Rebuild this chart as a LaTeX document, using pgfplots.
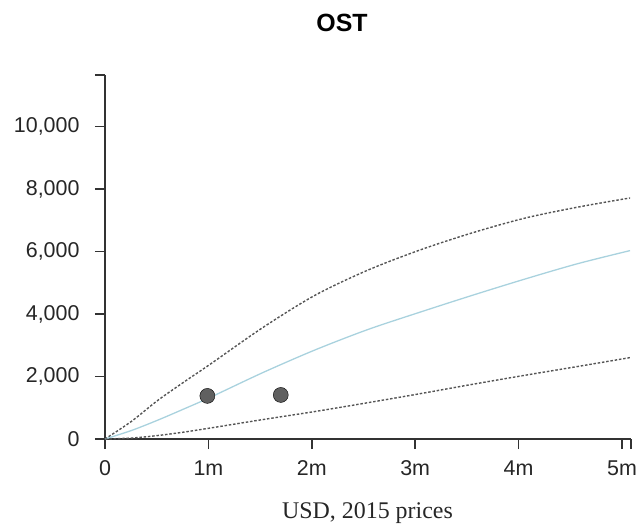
\documentclass[border=0pt]{standalone}
\usepackage{fontspec}
\setmainfont{Liberation Serif}
\newfontfamily\sansf{Liberation Sans}
\usepackage{pgfplots}
\pgfplotsset{compat=1.18}
\definecolor{axisgray}{HTML}{333333}
\definecolor{dashgray}{HTML}{555555}
\definecolor{midblue}{HTML}{A9D2DE}
\definecolor{dotgray}{HTML}{606060}
\begin{document}
\begin{tikzpicture}
\useasboundingbox (-105bp,-91bp) rectangle (536bp,439bp);
\begin{axis}[
  at={(0,0)}, anchor=south west,
  scale only axis,
  width=526bp, height=364bp,
  xmin=0, xmax=5.087, ymin=0, ymax=11650,
  axis x line*=bottom, axis y line*=left,
  axis line style={axisgray, line width=1.6bp, -},
  tick style={axisgray, line width=1.6bp},
  tick align=outside,
  major tick length=10bp,
  scaled ticks=false,
  xtick={0,1,2,3,4,5},
  xticklabels={0,1m,2m,3m,4m,5m},
  extra x ticks={5.087}, extra x tick labels={},
  ytick={0,2000,4000,6000,8000,10000},
  yticklabels={0,{2,000},{4,000},{6,000},{8,000},{10,000}},
  extra y ticks={11650}, extra y tick labels={},
  /pgf/number format/assume math mode=true,
  tick label style={font=\sansf\fontsize{21.5}{26}\selectfont, text=black!85},
  xticklabel style={yshift=-8bp},
  yticklabel style={xshift=-12bp},
  clip=false,
]
\addplot[dashgray, line width=1.4bp, dash pattern=on 2.5bp off 1.8bp, smooth] coordinates {
(0,0) (0.254,560) (0.508,1230) (0.762,1820) (1.016,2390) (1.523,3560) (2.031,4600) (2.539,5400) (3.047,6050) (3.554,6600) (4.062,7070) (4.570,7420) (5.078,7715)};
\addplot[midblue, line width=1.3bp, smooth] coordinates {
(0,0) (0.254,270) (0.508,600) (0.762,960) (1.016,1330) (1.523,2120) (2.031,2850) (2.539,3500) (3.047,4060) (3.554,4600) (4.062,5120) (4.570,5610) (5.078,6030)};
\addplot[dashgray, line width=1.4bp, dash pattern=on 2.5bp off 1.8bp, smooth] coordinates {
(0,0) (0.254,30) (0.508,110) (0.762,220) (1.016,350) (1.523,620) (2.031,880) (2.539,1160) (3.047,1450) (3.554,1750) (4.062,2040) (4.570,2320) (5.078,2605)};
\addplot[only marks, mark=*, mark size=7.5bp, mark options={draw=none, fill=dotgray}] coordinates {
(0.99,1380) (1.70,1410)};
\end{axis}
\node[anchor=base, font=\sansf\bfseries\fontsize{25}{30}\selectfont] at (237bp,407bp) {OST};
\node[anchor=base, font=\fontsize{24}{28}\selectfont, text=black!85] at (262.5bp,-79bp) {USD, 2015 prices};
\end{tikzpicture}
\end{document}
